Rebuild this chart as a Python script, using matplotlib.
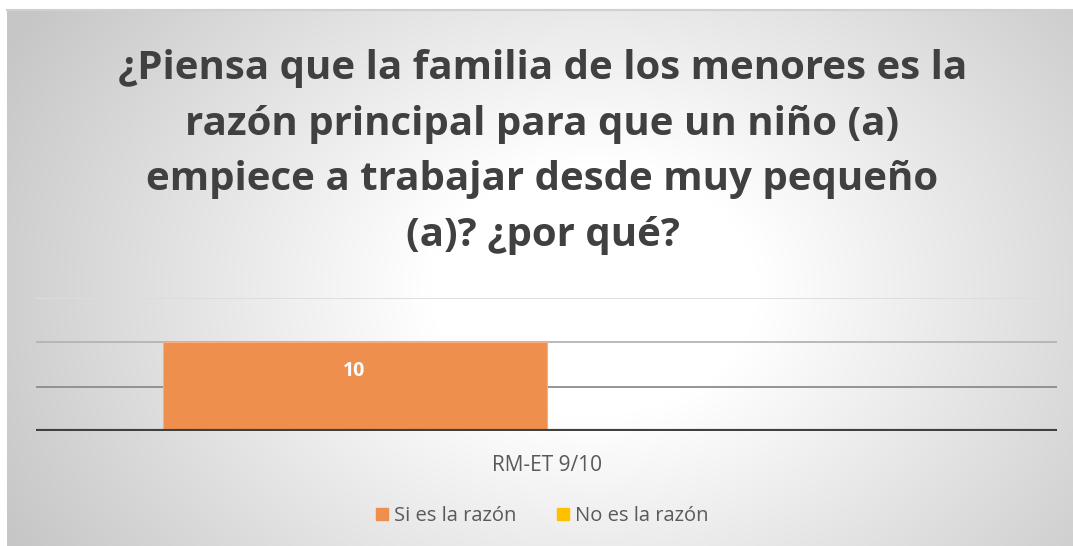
import numpy as np
import matplotlib.pyplot as plt

categories = ["RM-ET 9/10"]
series_names = ["Si es la razón", "No es la razón"]
si_values = [10]
no_values = [0]
series_colors = ["#EE8F4E", "#FFC000"]

title = ("¿Piensa que la familia de los menores es la\n"
         "razón principal para que un niño (a)\n"
         "empiece a trabajar desde muy pequeño\n"
         "(a)? ¿por qué?")

W, H = 1073, 546
fig = plt.figure(figsize=(W / 100, H / 100), dpi=100)
fig.patch.set_facecolor("white")

# radial gradient background of the chart area
bg = fig.add_axes([7 / W, 0, 1 - 7 / W, (H - 10) / H])
ny, nx = 268, 533
yy, xx = np.mgrid[0:ny, 0:nx]
cx, cy = nx * 0.55, ny * 0.52
d = np.sqrt(((xx - cx) / (nx * 0.62)) ** 2 + ((yy - cy) / (ny * 0.95)) ** 2)
d = np.clip((d - 0.25) / 0.75, 0, 1)
shade = 1 - 0.22 * d
bg.imshow(np.dstack([shade] * 3), aspect="auto", extent=[0, 1, 0, 1], interpolation="bilinear")
bg.set_xlim(0, 1)
bg.set_ylim(0, 1)
bg.axis("off")
bg.plot([0, 1], [1, 1], color="#d0d0d0", lw=1.5, transform=bg.transAxes, clip_on=False)

fig.text(0.5 + 6 / W, 1 - 152 / H, title, ha="center", va="center", fontsize=29,
         fontweight="bold", color="#404040", family="Open Sans", linespacing=1.55)

ax = fig.add_axes([36 / W, (H - 431) / H, (1057 - 36) / W, (431 - 298) / H])
ax.set_facecolor("none")
x = np.arange(len(categories))
bw = 0.376
b1 = ax.bar(x - bw / 2, si_values, bw, color=series_colors[0], label=series_names[0],
            edgecolor="#f4b084", linewidth=0.8, zorder=3)
b2 = ax.bar(x + bw / 2, no_values, bw, color=series_colors[1], label=series_names[1], zorder=3)
ax.set_xlim(-0.5, 0.5)
ax.set_ylim(0, 15)

# gridlines
for v, c in [(5, "#8c8c8c"), (10, "#b4b4b4"), (15, "#dcdcdc")]:
    ax.axhline(v, color=c, lw=1.3, zorder=1)
ax.axhline(0, color="#404040", lw=3, zorder=4)

for rect, v in zip(b1, si_values):
    ax.text(rect.get_x() + rect.get_width() / 2, v - 3.2, str(v), ha="center", va="center",
            color="white", fontsize=14, fontweight="bold", family="Open Sans", zorder=5)

ax.set_yticks([])
ax.set_xticks(x)
ax.set_xticklabels(categories, fontsize=15, color="#595959", family="Open Sans")
ax.tick_params(axis="x", length=0, pad=17)
for s in ax.spines.values():
    s.set_visible(False)

handles = [plt.Rectangle((0, 0), 1, 1, color=c) for c in series_colors]
fig.legend(handles, series_names, loc="center", bbox_to_anchor=(0.5 + 6 / W, 1 - 516 / H),
           ncol=2, frameon=False, handlelength=0.6, handleheight=0.6, handletextpad=0.3,
           columnspacing=2.0, prop={"family": "Open Sans", "size": 14.5},
           labelcolor="#595959")

fig.savefig("out.png", dpi=100)
